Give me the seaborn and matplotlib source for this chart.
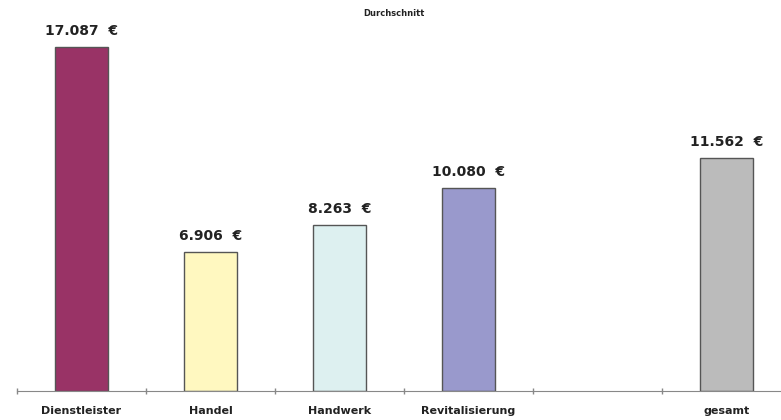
import numpy as np
import pandas as pd
import matplotlib
matplotlib.use("Agg")
import matplotlib.pyplot as plt
import seaborn as sns

# chart data
categories = ["Dienstleister", "Handel", "Handwerk", "Revitalisierung", " ", "gesamt"]
values = [17087, 6906, 8263, 10080, np.nan, 11562]
labels = ["17.087  €", "6.906  €", "8.263  €", "10.080  €", "", "11.562  €"]
colors = ["#993366", "#FFF8C0", "#DDF0F0", "#9999CC", "#FFFFFF", "#BBBBBB"]

df = pd.DataFrame({"Kategorie": categories, "Wert": values})

sns.set_style("white")
fig = plt.figure(figsize=(7.81, 4.2), dpi=100)
ax = fig.add_axes([17 / 781, 29 / 420, 774 / 781, 371 / 420])

sns.barplot(data=df, x="Kategorie", y="Wert", hue="Kategorie", palette=colors,
            order=categories, width=0.41, edgecolor="#555555", linewidth=1,
            saturation=1, legend=False, ax=ax)

for i, (v, t) in enumerate(zip(values, labels)):
    if not np.isnan(v):
        ax.text(i, v + 450, t, ha="center", va="bottom", fontsize=10,
                fontweight="bold", color="#222222")

ax.set_xlim(-0.5, 5.5)
ax.set_ylim(0, 18430)
ax.set_yticks([])
ax.set_xlabel("")
ax.set_ylabel("")
for s in ["top", "right", "left"]:
    ax.spines[s].set_visible(False)
ax.spines["bottom"].set_color("#888888")

ax.set_xticks(np.arange(6))
ax.set_xticklabels(categories, fontsize=8, fontweight="bold", color="#222222")
ax.tick_params(axis="x", which="major", bottom=False, length=0, pad=11)
ax.set_xticks(np.arange(-0.5, 6, 1), minor=True)
ax.tick_params(axis="x", which="minor", bottom=True, length=5, width=1,
               color="#888888", direction="inout")

fig.text(0.505, 1 - 13 / 420, "Durchschnitt", ha="center", va="center",
         fontsize=6, fontweight="bold", color="#222222")

fig.savefig("out.png", dpi=100)
